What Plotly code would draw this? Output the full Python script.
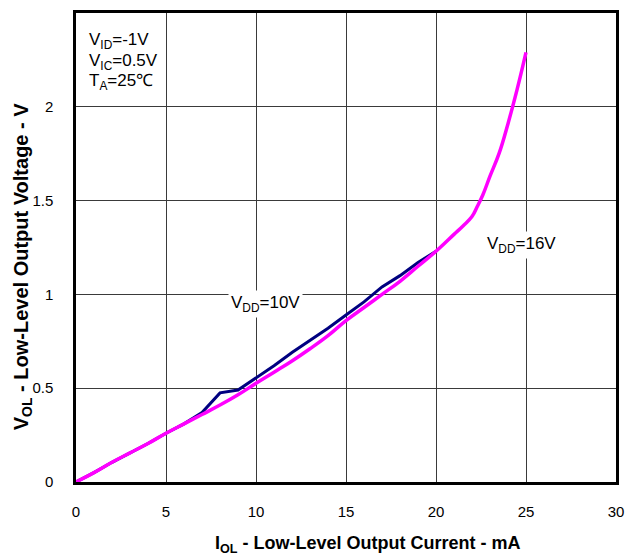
import plotly.graph_objects as go

# VDD = 10 V (navy)
x_10v = [0, 1, 2, 3, 4, 5, 6, 7, 8, 9, 10, 11, 12, 13, 14, 15, 16, 17, 18, 19, 20]
y_10v = [0, 0.05, 0.105, 0.155, 0.205, 0.26, 0.31, 0.37, 0.475, 0.49, 0.553, 0.62,
         0.69, 0.755, 0.82, 0.89, 0.96, 1.04, 1.1, 1.17, 1.23]

# VDD = 16 V (magenta)
x_16v = [0, 1, 2, 3, 4, 5, 6, 7, 8, 9, 10, 11, 12, 13, 14, 15, 16, 17, 18, 19, 20,
         21, 21.5, 22, 22.3, 22.6, 23, 23.5, 24, 24.5, 25]
y_16v = [0, 0.05, 0.105, 0.155, 0.205, 0.26, 0.31, 0.36, 0.41, 0.465, 0.526, 0.585,
         0.645, 0.71, 0.78, 0.86, 0.93, 1.0, 1.07, 1.15, 1.23, 1.32, 1.365, 1.415,
         1.47, 1.53, 1.63, 1.75, 1.91, 2.09, 2.29]

x_ticks = [0, 5, 10, 15, 20, 25, 30]
y_ticks = [0, 0.5, 1, 1.5, 2, 2.5]
y_tick_text = ["0", "0.5", "1", "1.5", "2", "2.5"]

FONT = "Liberation Sans, Arial, sans-serif"

fig = go.Figure()
fig.add_trace(go.Scatter(x=x_10v, y=y_10v, mode="lines",
                         line=dict(color="#000080", width=3), showlegend=False))
fig.add_trace(go.Scatter(x=x_16v, y=y_16v, mode="lines",
                         line=dict(color="#FF00FF", width=3.5, shape="spline", smoothing=1.2),
                         showlegend=False))

ann = dict(showarrow=False, font=dict(family=FONT, size=17, color="black"))
fig.add_annotation(x=0.6, y=2.35, xanchor="left", yanchor="middle",
                   text="V<sub>ID</sub>=-1V", **ann)
fig.add_annotation(x=0.6, y=2.24, xanchor="left", yanchor="middle",
                   text="V<sub>IC</sub>=0.5V", **ann)
fig.add_annotation(x=0.6, y=2.13, xanchor="left", yanchor="middle",
                   text="T<sub>A</sub>=25℃", **ann)
fig.add_annotation(x=10.5, y=0.95, xanchor="center", yanchor="middle",
                   text="V<sub>DD</sub>=10V", bgcolor="white", borderpad=2, **ann)
fig.add_annotation(x=24.75, y=1.265, xanchor="center", yanchor="middle",
                   text="V<sub>DD</sub>=16V", bgcolor="white", borderpad=2, **ann)

# axis titles
fig.add_annotation(xref="paper", yref="paper", x=0.541, y=-0.134,
                   xanchor="center", yanchor="middle", showarrow=False,
                   text="<b>I<sub>OL</sub> - Low-Level Output Current - mA</b>",
                   font=dict(family=FONT, size=18, color="black"))
fig.add_annotation(xref="paper", yref="paper", x=-0.1, y=0.46,
                   xanchor="center", yanchor="middle", showarrow=False, textangle=-90,
                   text="<b>V<sub>OL</sub> - Low-Level Output Voltage - V</b>",
                   font=dict(family=FONT, size=20, color="black"))

fig.update_xaxes(range=[0, 30], tickvals=x_ticks, ticktext=[str(v) for v in x_ticks],
                 showgrid=True, gridcolor="#3a3a3a", gridwidth=1,
                 showline=True, linecolor="black", linewidth=2.5, mirror=True,
                 ticks="", zeroline=False, ticklabelstandoff=14, automargin=False,
                 tickfont=dict(family=FONT, size=15, color="black"))
fig.update_yaxes(range=[0, 2.5], tickvals=y_ticks, ticktext=y_tick_text,
                 showgrid=True, gridcolor="#3a3a3a", gridwidth=1,
                 showline=True, linecolor="black", linewidth=2.5, mirror=True,
                 ticks="", zeroline=False, ticklabelstandoff=17, automargin=False,
                 tickfont=dict(family=FONT, size=15, color="black"))

# page body has an 8px default margin; compensate so the plot area lands where the reference has it
fig.update_layout(width=627, height=550, paper_bgcolor="white", plot_bgcolor="white",
                  margin=dict(l=68, r=19, t=5, b=76, autoexpand=False), showlegend=False)

fig.write_html("out.html")
